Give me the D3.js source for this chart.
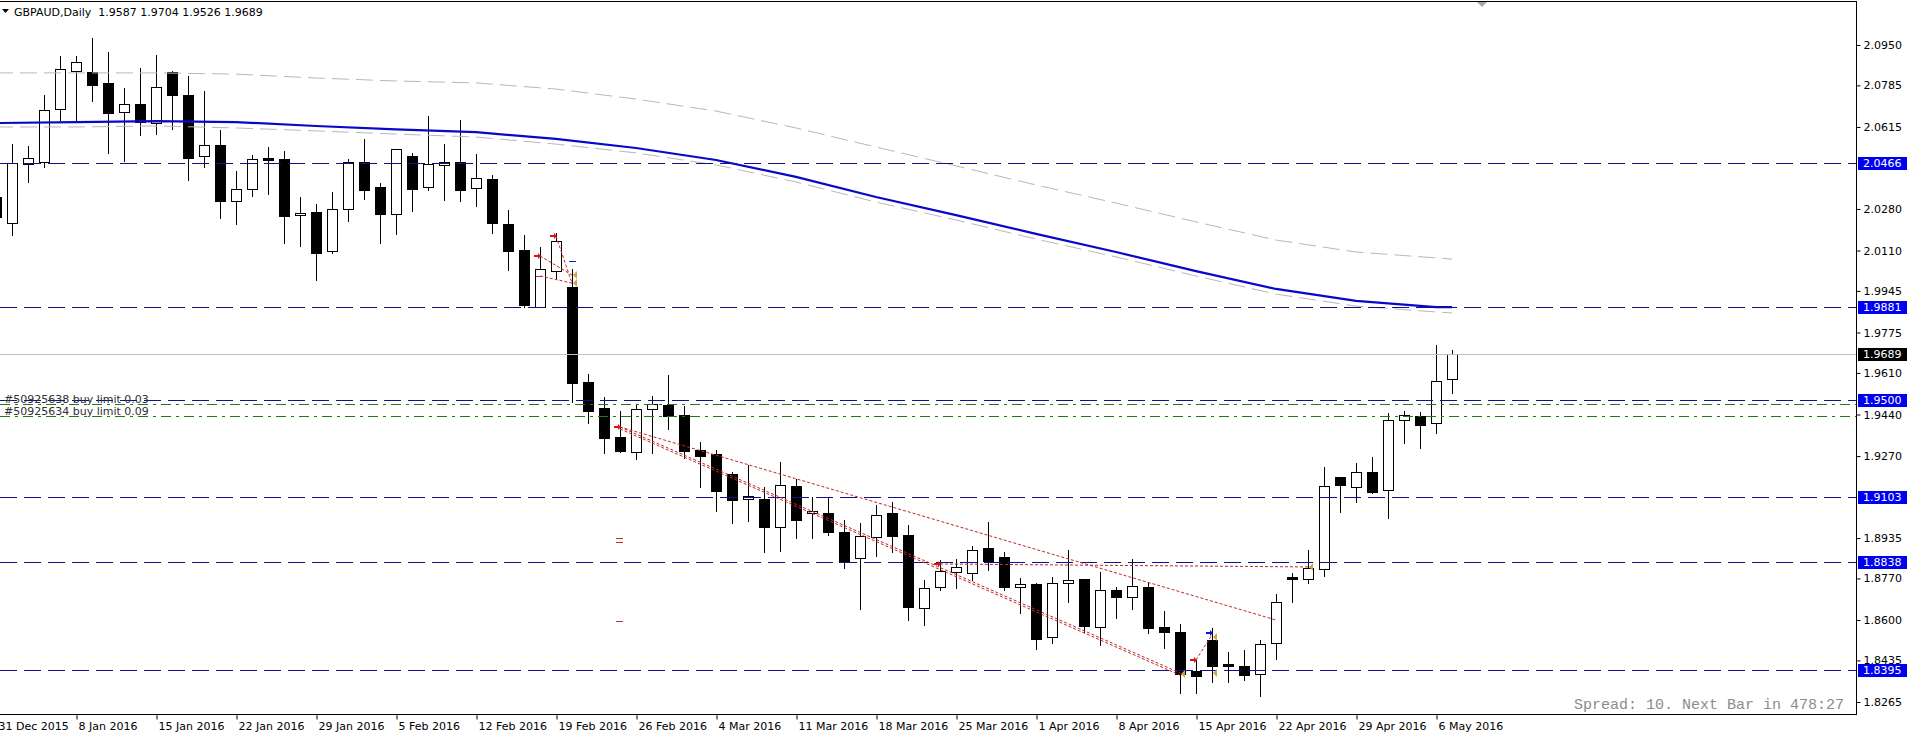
<!DOCTYPE html>
<html lang="en">
<head>
<meta charset="UTF-8">
<title>GBPAUD,Daily</title>
<script src="https://d3js.org/d3.v7.min.js"></script>
<style>
  body { margin: 0; background: #fff; }
  svg { display: block; }
</style>
</head>
<body>
<div id="chart"></div>
<script>
// ---- data ----
// bars: 0 = 31 Dec 2015 ... 91 = 9 May 2016 (current bar)
var labelBars = [0, 5, 10, 15, 20, 25, 30, 35, 40, 45, 50, 55, 60, 65, 70, 75, 80, 85, 90];
var dateLabels = ["31 Dec 2015", "8 Jan 2016", "15 Jan 2016", "22 Jan 2016", "29 Jan 2016",
    "5 Feb 2016", "12 Feb 2016", "19 Feb 2016", "26 Feb 2016", "4 Mar 2016", "11 Mar 2016",
    "18 Mar 2016", "25 Mar 2016", "1 Apr 2016", "8 Apr 2016", "15 Apr 2016", "22 Apr 2016",
    "29 Apr 2016", "6 May 2016"];

var opens = [2.0329, 2.0223, 2.0464, 2.0472, 2.0688, 2.0844, 2.0840, 2.0795, 2.0676, 2.0709,
    2.0631, 2.0840, 2.0746, 2.0496, 2.0541, 2.0312, 2.0362, 2.0488, 2.0484, 2.0255,
    2.0268, 2.0108, 2.0280, 2.0472, 2.0370, 2.0259, 2.0496, 2.0370, 2.0460, 2.0472,
    2.0366, 2.0402, 2.0219, 2.0112, 1.9879, 2.0026, 1.9961, 1.9573, 1.9467, 1.9348,
    1.9287, 1.9463, 1.9479, 1.9438, 1.9295, 1.9279, 1.9197, 1.9095, 1.9095, 1.8980,
    1.9148, 1.9037, 1.9037, 1.8960, 1.8854, 1.8939, 1.9037, 1.8948, 1.8649, 1.8735,
    1.8796, 1.8792, 1.8894, 1.8858, 1.8735, 1.8747, 1.8531, 1.8751, 1.8768, 1.8572,
    1.8723, 1.8694, 1.8735, 1.8572, 1.8551, 1.8392, 1.8519, 1.8420, 1.8412, 1.8380,
    1.8506, 1.8776, 1.8768, 1.8809, 1.9185, 1.9144, 1.9205, 1.9131, 1.9418, 1.9434,
    1.9405, 1.9587];
var highs = [2.0378, 2.0545, 2.0537, 2.0746, 2.0905, 2.0905, 2.0979, 2.0921, 2.0774, 2.0856,
    2.0909, 2.0842, 2.0823, 2.0762, 2.0603, 2.0435, 2.0500, 2.0533, 2.0517, 2.0329,
    2.0300, 2.0349, 2.0484, 2.0566, 2.0386, 2.0527, 2.0509, 2.0660, 2.0545, 2.0644,
    2.0505, 2.0419, 2.0276, 2.0174, 2.0125, 2.0182, 2.0035, 1.9605, 1.9512, 1.9454,
    1.9479, 1.9516, 1.9601, 1.9475, 1.9328, 1.9295, 1.9205, 1.9234, 1.9144, 1.9246,
    1.9176, 1.9103, 1.9103, 1.9009, 1.8997, 1.9070, 1.9082, 1.8988, 1.8764, 1.8845,
    1.8850, 1.8903, 1.9001, 1.8878, 1.8772, 1.8751, 1.8776, 1.8886, 1.8768, 1.8796,
    1.8735, 1.8850, 1.8755, 1.8637, 1.8584, 1.8437, 1.8568, 1.8469, 1.8478, 1.8519,
    1.8706, 1.8792, 1.8886, 1.9226, 1.9185, 1.9242, 1.9266, 1.9446, 1.9454, 1.9450,
    1.9724, 1.9704];
var lows = [2.0214, 2.0174, 2.0390, 2.0451, 2.0644, 2.0644, 2.0721, 2.0509, 2.0476, 2.0582,
    2.0586, 2.0607, 2.0398, 2.0451, 2.0243, 2.0219, 2.0333, 2.0341, 2.0141, 2.0129,
    1.9990, 2.0100, 2.0231, 2.0321, 2.0141, 2.0178, 2.0272, 2.0357, 2.0317, 2.0312,
    2.0292, 2.0182, 2.0031, 1.9879, 1.9879, 1.9998, 1.9491, 1.9405, 1.9283, 1.9287,
    1.9258, 1.9283, 1.9381, 1.9262, 1.9144, 1.9046, 1.8997, 1.9005, 1.8878, 1.8882,
    1.8935, 1.8935, 1.8948, 1.8813, 1.8645, 1.8862, 1.8878, 1.8600, 1.8580, 1.8723,
    1.8731, 1.8764, 1.8805, 1.8723, 1.8629, 1.8482, 1.8506, 1.8674, 1.8551, 1.8498,
    1.8608, 1.8645, 1.8547, 1.8486, 1.8302, 1.8302, 1.8347, 1.8347, 1.8355, 1.8290,
    1.8441, 1.8674, 1.8751, 1.8780, 1.9042, 1.9082, 1.9119, 1.9017, 1.9324, 1.9303,
    1.9364, 1.9526];
var closes = [2.0247, 2.0468, 2.0488, 2.0684, 2.0852, 2.0881, 2.0787, 2.0672, 2.0709, 2.0635,
    2.0778, 2.0746, 2.0488, 2.0541, 2.0312, 2.0362, 2.0484, 2.0480, 2.0251, 2.0263,
    2.0100, 2.0280, 2.0472, 2.0357, 2.0259, 2.0525, 2.0362, 2.0464, 2.0472, 2.0357,
    2.0406, 2.0223, 2.0108, 1.9888, 2.0035, 2.0149, 1.9569, 1.9454, 1.9344, 1.9291,
    1.9463, 1.9483, 1.9434, 1.9291, 1.9270, 1.9127, 1.9091, 1.9107, 1.8980, 1.9152,
    1.9009, 1.9046, 1.8960, 1.8837, 1.8943, 1.9029, 1.8943, 1.8653, 1.8731, 1.8800,
    1.8817, 1.8886, 1.8841, 1.8735, 1.8747, 1.8523, 1.8751, 1.8764, 1.8576, 1.8723,
    1.8694, 1.8739, 1.8568, 1.8551, 1.8380, 1.8371, 1.8412, 1.8412, 1.8375, 1.8502,
    1.8674, 1.8768, 1.8813, 1.9148, 1.9152, 1.9205, 1.9123, 1.9418, 1.9438, 1.9397,
    1.9577, 1.9689];

// moving average lines, read every 5 bars
var maBars = [0, 5, 10, 15, 20, 25, 30, 35, 40, 45, 50, 55, 60, 65, 70, 75, 80, 85, 90, 91];
var maBlue = [2.0631, 2.0635, 2.0639, 2.0635, 2.0619, 2.0605, 2.0594, 2.0566, 2.0529, 2.0480,
    2.0411, 2.0329, 2.0255, 2.0178, 2.0104, 2.0026, 1.9953, 1.9904, 1.9879, 1.9879];
var maUpper = [2.0836, 2.0836, 2.0836, 2.0831, 2.0815, 2.0803, 2.0795, 2.0770, 2.0729, 2.0680,
    2.0611, 2.0533, 2.0456, 2.0378, 2.0304, 2.0227, 2.0153, 2.0104, 2.0080, 2.0075];
var maLower = [2.0615, 2.0615, 2.0619, 2.0611, 2.0599, 2.0586, 2.0574, 2.0545, 2.0509, 2.0460,
    2.0390, 2.0308, 2.0235, 2.0157, 2.0084, 2.0006, 1.9932, 1.9883, 1.9859, 1.9855];

// horizontal objects
var levels = [2.0466, 1.9881, 1.9500, 1.9103, 1.8838, 1.8395];
var orderLevels = [1.9483, 1.9434];
var orderNames = ["#50925638 buy limit 0.03", "#50925634 buy limit 0.09"];
var bid = 1.9689;
var priceTicks = [2.0950, 2.0785, 2.0615, 2.0280, 2.0110, 1.9945, 1.9775, 1.9610,
    1.9440, 1.9270, 1.8935, 1.8770, 1.8600, 1.8435, 1.8265];

// trade history: [openBar, openPrice, closeBar, closePrice]
var trades = [[34, 2.0088, 36, 2.0010], [35, 2.0169, 36, 1.9977], [34, 2.0006, 36, 1.9977],
    [39, 1.9389, 80, 1.8600], [39, 1.9389, 74, 1.8384], [39, 1.9381, 74, 1.8375],
    [59, 1.8829, 82, 1.8817], [75, 1.8437, 76, 1.8539]];
var redArrows = [[34, 2.0088], [35, 2.0169], [39, 1.9389], [59, 1.8829], [75, 1.8437]];
var blueArrows = [[76, 1.8547]];
var closeMarks = [[36, 2.0010], [36, 1.9977], [74, 1.8380], [76, 1.8531], [76, 1.8384], [82, 1.8817]];
var redDashes = [[39, 1.8935], [39, 1.8919], [39, 1.8596], [34, 2.0006]];
var blueDashes = [[36, 2.0067]];

// ---- layout ----
var W = 1912, H = 738;
var plotRight = 1856, plotTop = 1, plotBottom = 714;
var font = "'DejaVu Sans', Tahoma, sans-serif";

var svg = d3.select("#chart").append("svg")
    .attr("width", W).attr("height", H)
    .style("background", "#fff");

svg.append("defs").append("clipPath").attr("id", "plot")
    .append("rect").attr("x", 0).attr("y", plotTop).attr("width", plotRight).attr("height", plotBottom - plotTop);

var x = d3.scaleLinear().domain([0, 91]).range([-4, 1452]);
var y = d3.scaleLinear().domain([1.8265, 2.0950]).range([702, 45]);

function px(v) { return Math.round(v) + 0.5; }

var plot = svg.append("g").attr("clip-path", "url(#plot)");

// candles
var bars = d3.range(opens.length);
var candle = plot.append("g").attr("shape-rendering", "crispEdges")
    .selectAll("g").data(bars).enter().append("g");

candle.append("line")
    .attr("x1", function(i) { return px(x(i)); })
    .attr("x2", function(i) { return px(x(i)); })
    .attr("y1", function(i) { return Math.round(y(highs[i])); })
    .attr("y2", function(i) { return Math.round(y(lows[i])) + 1; })
    .attr("stroke", "#000");

candle.append("rect")
    .attr("x", function(i) { return Math.round(x(i)) - 5 + 0.5; })
    .attr("width", 10)
    .attr("y", function(i) { return px(y(Math.max(opens[i], closes[i]))); })
    .attr("height", function(i) {
        return Math.max(1, Math.round(y(Math.min(opens[i], closes[i]))) - Math.round(y(Math.max(opens[i], closes[i]))));
    })
    .attr("fill", function(i) { return closes[i] >= opens[i] ? "#fff" : "#000"; })
    .attr("stroke", "#000");

// moving averages
var line = d3.line()
    .x(function(d) { return x(d[0]); })
    .y(function(d) { return y(d[1]); });

function series(vals) { return maBars.map(function(b, k) { return [b, vals[k]]; }); }

plot.append("path").datum(series(maUpper))
    .attr("d", line).attr("fill", "none")
    .attr("stroke", "#b8b8b8").attr("stroke-width", 1).attr("stroke-dasharray", "17,7");
plot.append("path").datum(series(maLower))
    .attr("d", line).attr("fill", "none")
    .attr("stroke", "#b8b8b8").attr("stroke-width", 1).attr("stroke-dasharray", "17,7");
plot.append("path").datum(series(maBlue))
    .attr("d", line).attr("fill", "none")
    .attr("stroke", "#0808c8").attr("stroke-width", 2.2);

// bid line
plot.append("line")
    .attr("x1", 0).attr("x2", plotRight)
    .attr("y1", px(y(bid))).attr("y2", px(y(bid)))
    .attr("stroke", "#c0c0c0");

// horizontal levels
plot.selectAll(".level").data(levels).enter().append("line")
    .attr("class", "level")
    .attr("x1", 0).attr("x2", plotRight)
    .attr("y1", function(d) { return px(y(d)); })
    .attr("y2", function(d) { return px(y(d)); })
    .attr("stroke", "#101088").attr("stroke-dasharray", "17,7");

// pending orders
plot.selectAll(".order").data(orderLevels).enter().append("line")
    .attr("class", "order")
    .attr("x1", 0).attr("x2", plotRight)
    .attr("y1", function(d) { return px(y(d)); })
    .attr("y2", function(d) { return px(y(d)); })
    .attr("stroke", "#1e7a1e").attr("stroke-dasharray", "10,5,3,5");

plot.selectAll(".orderText").data(orderLevels).enter().append("text")
    .attr("x", 4)
    .attr("y", function(d) { return Math.round(y(d)) - 1; })
    .attr("font-family", font).attr("font-size", 11)
    .attr("fill", "#303030")
    .text(function(d, i) { return orderNames[i]; });

// trade history lines
plot.selectAll(".trade").data(trades).enter().append("line")
    .attr("x1", function(d) { return x(d[0]); })
    .attr("y1", function(d) { return y(d[1]); })
    .attr("x2", function(d) { return x(d[2]); })
    .attr("y2", function(d) { return y(d[3]); })
    .attr("stroke", "#c02828").attr("stroke-width", 1).attr("stroke-dasharray", "3,2");

function arrowPath(d) {
    var tx = Math.round(x(d[0])) + 1, ty = Math.round(y(d[1]));
    return "M" + (tx - 7) + "," + (ty - 1) + "H" + (tx - 3) + "V" + (ty - 3) + "L" + tx + "," + ty +
        "L" + (tx - 3) + "," + (ty + 3) + "V" + (ty + 1) + "H" + (tx - 7) + "Z";
}
plot.selectAll(".rarrow").data(redArrows).enter().append("path")
    .attr("d", arrowPath).attr("fill", "#e01010");
plot.selectAll(".barrow").data(blueArrows).enter().append("path")
    .attr("d", arrowPath).attr("fill", "#1010e0");

plot.selectAll(".cmark").data(closeMarks).enter().append("path")
    .attr("d", function(d) {
        var tx = Math.round(x(d[0])) + 1, ty = Math.round(y(d[1]));
        return "M" + tx + "," + ty + "L" + (tx + 4) + "," + (ty - 4) + "V" + (ty + 4) + "Z";
    })
    .attr("fill", "#d2a448");

plot.selectAll(".rdash").data(redDashes).enter().append("line")
    .attr("x1", function(d) { return Math.round(x(d[0])) - 4; })
    .attr("x2", function(d) { return Math.round(x(d[0])) + 3; })
    .attr("y1", function(d) { return px(y(d[1])); })
    .attr("y2", function(d) { return px(y(d[1])); })
    .attr("stroke", "#c83030");
plot.selectAll(".bdash").data(blueDashes).enter().append("line")
    .attr("x1", function(d) { return Math.round(x(d[0])) - 3; })
    .attr("x2", function(d) { return Math.round(x(d[0])) + 4; })
    .attr("y1", function(d) { return px(y(d[1])); })
    .attr("y2", function(d) { return px(y(d[1])); })
    .attr("stroke", "#2020c0");

// frame
svg.append("path")
    .attr("d", "M0," + (plotTop + 0.5) + "H" + (plotRight + 0.5) + "V" + (plotBottom + 0.5) + "H0")
    .attr("fill", "none").attr("stroke", "#000").attr("shape-rendering", "crispEdges");

// shift marker
svg.append("path").attr("d", "M1477,2H1487L1482,7Z").attr("fill", "#a8a8a8");

// price axis
var yAxis = d3.axisRight(y)
    .tickValues(priceTicks)
    .tickSize(4).tickPadding(3)
    .tickFormat(d3.format(".4f"));
var ya = svg.append("g")
    .attr("transform", "translate(" + (plotRight + 0.5) + ",0)")
    .call(yAxis);
ya.select(".domain").remove();
ya.attr("font-family", font).attr("font-size", 11);
ya.selectAll("text").attr("fill", "#000");

// highlighted price labels
var tags = levels.map(function(v) { return [v, "#0000f0"]; }).concat([[bid, "#000"]]);
var tag = svg.selectAll(".tag").data(tags).enter().append("g");
tag.append("rect")
    .attr("x", 1858).attr("width", 49)
    .attr("y", function(d) { return Math.round(y(d[0])) - 6; })
    .attr("height", 13)
    .attr("fill", function(d) { return d[1]; });
tag.append("text")
    .attr("x", 1863)
    .attr("y", function(d) { return y(d[0]); })
    .attr("dy", "0.36em")
    .attr("font-family", font).attr("font-size", 11)
    .attr("fill", "#fff")
    .text(function(d) { return d3.format(".4f")(d[0]); });

// date axis
var xAxis = d3.axisBottom(x)
    .tickValues(labelBars)
    .tickSize(5).tickPadding(3)
    .tickFormat(function(d, i) { return dateLabels[i]; });
var xa = svg.append("g")
    .attr("transform", "translate(0," + (plotBottom + 0.5) + ")")
    .call(xAxis);
xa.select(".domain").remove();
xa.attr("font-family", font).attr("font-size", 11);
xa.selectAll(".tick line").attr("transform", "translate(0.5,0)");
xa.selectAll("text").attr("text-anchor", "start").attr("dx", 2).attr("fill", "#000");

// title
svg.append("path").attr("d", "M2,9H9L5.5,13Z").attr("fill", "#000");
svg.append("text")
    .attr("x", 14).attr("y", 16)
    .attr("font-family", font).attr("font-size", 11)
    .attr("fill", "#000")
    .attr("xml:space", "preserve")
    .text("GBPAUD,Daily  1.9587 1.9704 1.9526 1.9689");

// status text
svg.append("text")
    .attr("x", 1844).attr("y", 709)
    .attr("text-anchor", "end")
    .attr("font-family", "'Liberation Mono', monospace").attr("font-size", 15)
    .attr("fill", "#8c8c8c")
    .text("Spread: 10. Next Bar in 478:27");
</script>
</body>
</html>
